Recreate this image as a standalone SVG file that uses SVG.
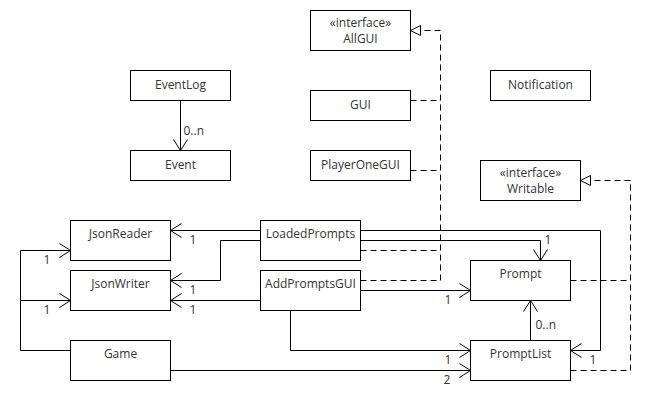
<svg xmlns="http://www.w3.org/2000/svg" width="660" height="410" viewBox="0 0 660 410">
<style>
rect.box{fill:#fff;stroke:#000;stroke-width:1}
text{font-family:"Open Sans","Noto Sans","DejaVu Sans",sans-serif;font-size:12px;fill:#333}
text.name{text-anchor:middle}
.assoc{fill:none;stroke:#000;stroke-width:1}
.real{fill:none;stroke:#000;stroke-width:1;stroke-dasharray:6,4}
</style>
<defs>
<marker id="open" markerUnits="userSpaceOnUse" viewBox="-12 -8 13 16" markerWidth="13" markerHeight="16" refX="0" refY="0" orient="auto" overflow="visible">
<path d="M-11,-7 L0,0 L-11,7" fill="none" stroke="#000" stroke-width="1" stroke-dasharray="none"/>
</marker>
<marker id="tri" markerUnits="userSpaceOnUse" viewBox="-10 -6 11 12" markerWidth="11" markerHeight="12" refX="0" refY="0" orient="auto" overflow="visible">
<path d="M-10,-5 L0,0 L-10,5 Z" fill="#fff" stroke="#000" stroke-width="1" stroke-dasharray="none"/>
</marker>
</defs>
<rect x="0" y="0" width="660" height="410" fill="#fff"/>
<g transform="translate(0.5,0.5)">
<g id="connectors">
<path class="assoc" d="M180,100 L180,150" marker-end="url(#open)"/>
<text x="183" y="134">0..n</text>
<path class="real" d="M360,280 L440,280 L440,30 L410,30" marker-end="url(#tri)"/>
<path class="real" d="M410,100 L440,100"/>
<path class="real" d="M410,170 L440,170"/>
<path class="real" d="M360,250 L440,250"/>
<path class="real" d="M570,370 L630,370 L630,180 L580,180" marker-end="url(#tri)"/>
<path class="real" d="M570,280 L630,280"/>
<path class="assoc" d="M260,230 L170,230" marker-end="url(#open)"/>
<text x="189" y="243">1</text>
<path class="assoc" d="M260,240 L220,240 L220,280 L170,280" marker-end="url(#open)"/>
<text x="189" y="293">1</text>
<path class="assoc" d="M260,300 L170,300" marker-end="url(#open)"/>
<text x="189" y="313">1</text>
<path class="assoc" d="M70,350 L20,350 L20,250 L70,250" marker-end="url(#open)"/>
<text x="43" y="263">1</text>
<path class="assoc" d="M20,300 L70,300" marker-end="url(#open)"/>
<text x="43" y="313">1</text>
<path class="assoc" d="M170,370 L470,370" marker-end="url(#open)"/>
<text x="443" y="383">2</text>
<path class="assoc" d="M360,240 L540,240 L540,260" marker-end="url(#open)"/>
<text x="544" y="243">1</text>
<path class="assoc" d="M360,230 L600,230 L600,350 L570,350" marker-end="url(#open)"/>
<text x="589" y="363">1</text>
<path class="assoc" d="M360,290 L470,290" marker-end="url(#open)"/>
<text x="444" y="303">1</text>
<path class="assoc" d="M290,310 L290,350 L470,350" marker-end="url(#open)"/>
<text x="444" y="363">1</text>
<path class="assoc" d="M530,340 L530,300" marker-end="url(#open)"/>
<text x="535" y="328">0..n</text>
</g>
<g id="AllGUI"><rect class="box" x="310" y="10" width="100" height="40"/><text class="name" x="360" y="26">«interface»</text><text class="name" x="360" y="42.5">AllGUI</text></g>
<g id="EventLog"><rect class="box" x="130" y="70" width="100" height="30"/><text class="name" x="180" y="88">EventLog</text></g>
<g id="Event"><rect class="box" x="130" y="150" width="100" height="30"/><text class="name" x="180" y="168">Event</text></g>
<g id="GUI"><rect class="box" x="310" y="90" width="100" height="30"/><text class="name" x="360" y="108.5">GUI</text></g>
<g id="PlayerOneGUI"><rect class="box" x="310" y="150" width="100" height="30"/><text class="name" x="360" y="168.5">PlayerOneGUI</text></g>
<g id="Notification"><rect class="box" x="490" y="70" width="100" height="30"/><text class="name" x="540" y="88.5">Notification</text></g>
<g id="Writable"><rect class="box" x="480" y="160" width="100" height="40"/><text class="name" x="530" y="176">«interface»</text><text class="name" x="530" y="192.5">Writable</text></g>
<g id="JsonReader"><rect class="box" x="70" y="220" width="100" height="40"/><text class="name" x="120" y="237">JsonReader</text></g>
<g id="JsonWriter"><rect class="box" x="70" y="270" width="100" height="40"/><text class="name" x="120" y="287">JsonWriter</text></g>
<g id="Game"><rect class="box" x="70" y="340" width="100" height="40"/><text class="name" x="120" y="357">Game</text></g>
<g id="LoadedPrompts"><rect class="box" x="260" y="220" width="100" height="40"/><text class="name" x="310" y="237">LoadedPrompts</text></g>
<g id="AddPromptsGUI"><rect class="box" x="260" y="270" width="100" height="40"/><text class="name" x="310" y="287">AddPromptsGUI</text></g>
<g id="Prompt"><rect class="box" x="470" y="260" width="100" height="40"/><text class="name" x="520" y="277">Prompt</text></g>
<g id="PromptList"><rect class="box" x="470" y="340" width="100" height="40"/><text class="name" x="520" y="357">PromptList</text></g>
</g>
</svg>
